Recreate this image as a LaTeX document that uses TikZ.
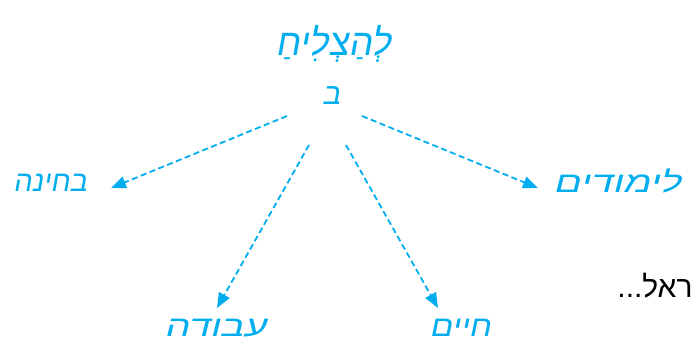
\documentclass[tikz,border=0pt]{standalone}
\usepackage{fontspec}
\usepackage{graphicx}
\usetikzlibrary{arrows.meta, positioning}
\TeXXeTstate=1
\newfontfamily\hebfont[Script=Hebrew, FakeSlant=0.18]{Liberation Sans}
\newfontfamily\hebplain[Script=Hebrew]{Liberation Sans}
\definecolor{skycyan}{RGB}{0, 174, 239}
\newcommand{\heb}[2]{\scalebox{#1}[1]{\beginR #2\endR}}
\tikzset{
  word/.style   = {text=skycyan, inner sep=0pt, font=\hebfont\fontsize{29}{34}\selectfont},
  plain/.style  = {text=black, inner sep=0pt, font=\hebplain\fontsize{30}{34}\selectfont},
  link/.style   = {-{Triangle[length=15pt, width=12pt]}, skycyan, line width=1.8pt,
                   dash pattern=on 6pt off 3.5pt},
}

\begin{document}
\begin{tikzpicture}[x=1pt, y=-1pt]

\useasboundingbox (0,0) rectangle (693,345);

% ===================== 中心 =====================
\node[word, font=\hebfont\fontsize{37}{42}\selectfont] (title) at (333, 44) {\heb{1}{לְהַצְלִיחַ}};
\node[word, font=\hebfont\fontsize{30}{34}\selectfont] (bet) at (331, 96) {\heb{1}{ב}};

% ===================== 目标 =====================
\node[word] (bchina)   at ( 50, 183) {\heb{1}{בחינה}};
\node[word] (limudim)  at (617, 181) {\heb{1.38}{לימודים}};
\node[word] (avoda)    at (215, 328) {\heb{1.35}{עבודה}};
\node[word] (chaim)    at (460, 328) {\heb{1.15}{חיים}};

% 箭头端点
\coordinate (s1) at (287, 116);
\coordinate (s2) at (309, 145);
\coordinate (s3) at (346, 145);
\coordinate (s4) at (362, 116);
\coordinate (e1) at (111, 188);
\coordinate (e2) at (217, 308);
\coordinate (e3) at (438, 308);
\coordinate (e4) at (538, 188);

\draw[link] (s1) -- (e1);
\draw[link] (s2) -- (e2);
\draw[link] (s3) -- (e3);
\draw[link] (s4) -- (e4);

% 右侧残文
\node[plain] (cut) at (655, 286) {\heb{1}{ראל...}};

\end{tikzpicture}
\end{document}
